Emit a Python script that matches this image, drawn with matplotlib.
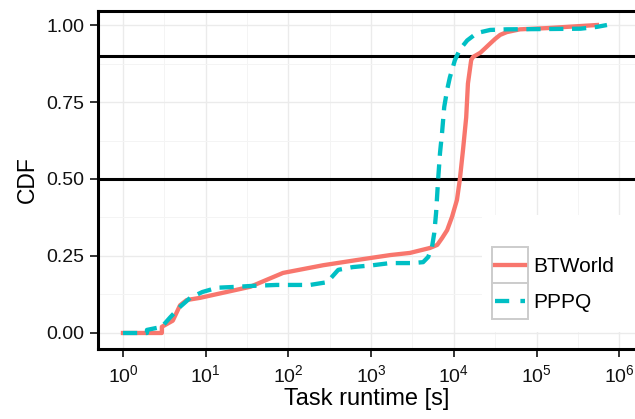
import numpy as np
import matplotlib
matplotlib.use("Agg")
import matplotlib.pyplot as plt
from matplotlib.patches import Rectangle
from matplotlib.lines import Line2D
from matplotlib.ticker import FixedLocator, FuncFormatter

plt.rcParams['font.family'] = ['Liberation Sans', 'DejaVu Sans']
plt.rcParams['mathtext.fontset'] = 'custom'
plt.rcParams['mathtext.rm'] = 'Liberation Sans'
plt.rcParams['mathtext.it'] = 'Liberation Sans'
plt.rcParams['mathtext.default'] = 'regular'

# Empirical CDF of task runtimes (seconds) per workload
btworld_runtime = [1, 2.95, 2.95, 4.0, 4.9, 5.9, 8.5, 34.5, 86, 263, 676, 1700,
                   2950, 5130, 6300, 7200, 8300, 9500, 10900, 11800, 12900,
                   14100, 14800, 16200, 17000, 20900, 24000, 27500, 31600,
                   36300, 43700, 63000, 135000, 537000]
btworld_cdf = [0.0, 0.0, 0.02, 0.04, 0.09, 0.107, 0.114, 0.15, 0.195, 0.22,
               0.237, 0.253, 0.26, 0.276, 0.286, 0.308, 0.334, 0.377, 0.432,
               0.497, 0.594, 0.70, 0.81, 0.886, 0.896, 0.91, 0.925, 0.94,
               0.955, 0.968, 0.977, 0.986, 0.99, 1.0]

pppq_runtime = [1, 1.95, 1.95, 2.95, 3.7, 4.9, 6.5, 9.1, 13.8, 24, 37, 72, 182,
                295, 400, 600, 1050, 1700, 3200, 4250, 4900, 5450, 5800, 6100,
                6450, 6800, 7200, 7650, 8300, 8950, 10300, 11800, 14500, 19000,
                27500, 43700, 135000, 340000, 537000, 710000]
pppq_cdf = [0.0, 0.0, 0.01, 0.02, 0.05, 0.085, 0.114, 0.133, 0.147, 0.15,
            0.153, 0.156, 0.156, 0.165, 0.205, 0.214, 0.22, 0.227, 0.227, 0.23,
            0.247, 0.28, 0.325, 0.39, 0.497, 0.584, 0.65, 0.734, 0.79, 0.83,
            0.886, 0.92, 0.95, 0.974, 0.984, 0.986, 0.987, 0.988, 0.994, 1.0]

series_names = ['BTWorld', 'PPPQ']
series_colors = ['#F8766D', '#00BFC4']
reference_levels = [0.5, 0.9]
x_decades = [0, 1, 2, 3, 4, 5, 6]
y_ticks = [0.0, 0.25, 0.5, 0.75, 1.0]

W, H = 635, 419
fig = plt.figure(figsize=(W / 100, H / 100), dpi=100)
L, B, T = 98, 349, 11
ax = fig.add_axes([L / W, 1 - B / H, 1 - L / W, (B - T) / H])

ax.set_xscale('log')
ax.set_xlim(10 ** -0.302, 10 ** 6.19)
ax.set_ylim(-0.052, 1.0455)

# grid
ax.xaxis.set_major_locator(FixedLocator([10.0 ** k for k in x_decades]))
ax.xaxis.set_minor_locator(FixedLocator([10.0 ** (k + 0.5) for k in range(-1, 7)]))
ax.yaxis.set_major_locator(FixedLocator(y_ticks))
ax.yaxis.set_minor_locator(FixedLocator([0.125, 0.375, 0.625, 0.875]))
ax.grid(True, which='major', color='#EBEBEB', linewidth=1.0, zorder=0)
ax.grid(True, which='minor', color='#F4F4F4', linewidth=0.7, zorder=0)
ax.set_axisbelow(True)

ax.xaxis.set_major_formatter(FuncFormatter(lambda v, p: r'$10^{%d}$' % round(np.log10(v))))
ax.yaxis.set_major_formatter(FuncFormatter(lambda v, p: '%.2f' % v))
ax.tick_params(which='minor', length=0)
ax.tick_params(which='major', length=6, width=1.4, color='#333333',
               labelsize=14, labelcolor='#111111', pad=4)
ax.tick_params(axis='x', which='major', pad=5)

ax.spines['right'].set_visible(False)
for side in ['left', 'bottom', 'top']:
    ax.spines[side].set_linewidth(2.2)
    ax.spines[side].set_color('black')

for lvl in reference_levels:
    ax.axhline(lvl, color='black', linewidth=2.2, zorder=2)

ax.plot(btworld_runtime, btworld_cdf, color=series_colors[0], linewidth=3.1,
        solid_joinstyle='round', zorder=3)
ax.plot(pppq_runtime, pppq_cdf, color=series_colors[1], linewidth=3.1,
        linestyle=(0, (3.3, 2.0)), zorder=4)

ax.set_xlabel('Task runtime [s]', fontsize=17, color='black', labelpad=1)
ax.set_ylabel('CDF', fontsize=16.5, color='black', labelpad=5)


def fx(x):
    return x / W


def fy(y):
    return 1 - y / H


# legend drawn inside the panel
fig.add_artist(Rectangle((fx(482), fy(332)), fx(635) - fx(482), fy(215) - fy(332),
                         transform=fig.transFigure, facecolor='white',
                         edgecolor='none', zorder=5))
for i, (name, col) in enumerate(zip(series_names, series_colors)):
    top = 247 + i * 36
    fig.add_artist(Rectangle((fx(492), fy(top + 36)), fx(528) - fx(492), fy(top) - fy(top + 36),
                             transform=fig.transFigure, facecolor='white',
                             edgecolor='#CCCCCC', linewidth=1.4, zorder=6))
    ls = '-' if i == 0 else (0, (3.3, 2.6))
    fig.add_artist(Line2D([fx(495), fx(525)], [fy(top + 18)] * 2,
                          transform=fig.transFigure, color=col, linewidth=3.1,
                          linestyle=ls, zorder=7))
    fig.text(fx(533), fy(top + 19), name, fontsize=15, color='black',
             ha='left', va='center', zorder=7)

fig.savefig('out.png', dpi=100)
